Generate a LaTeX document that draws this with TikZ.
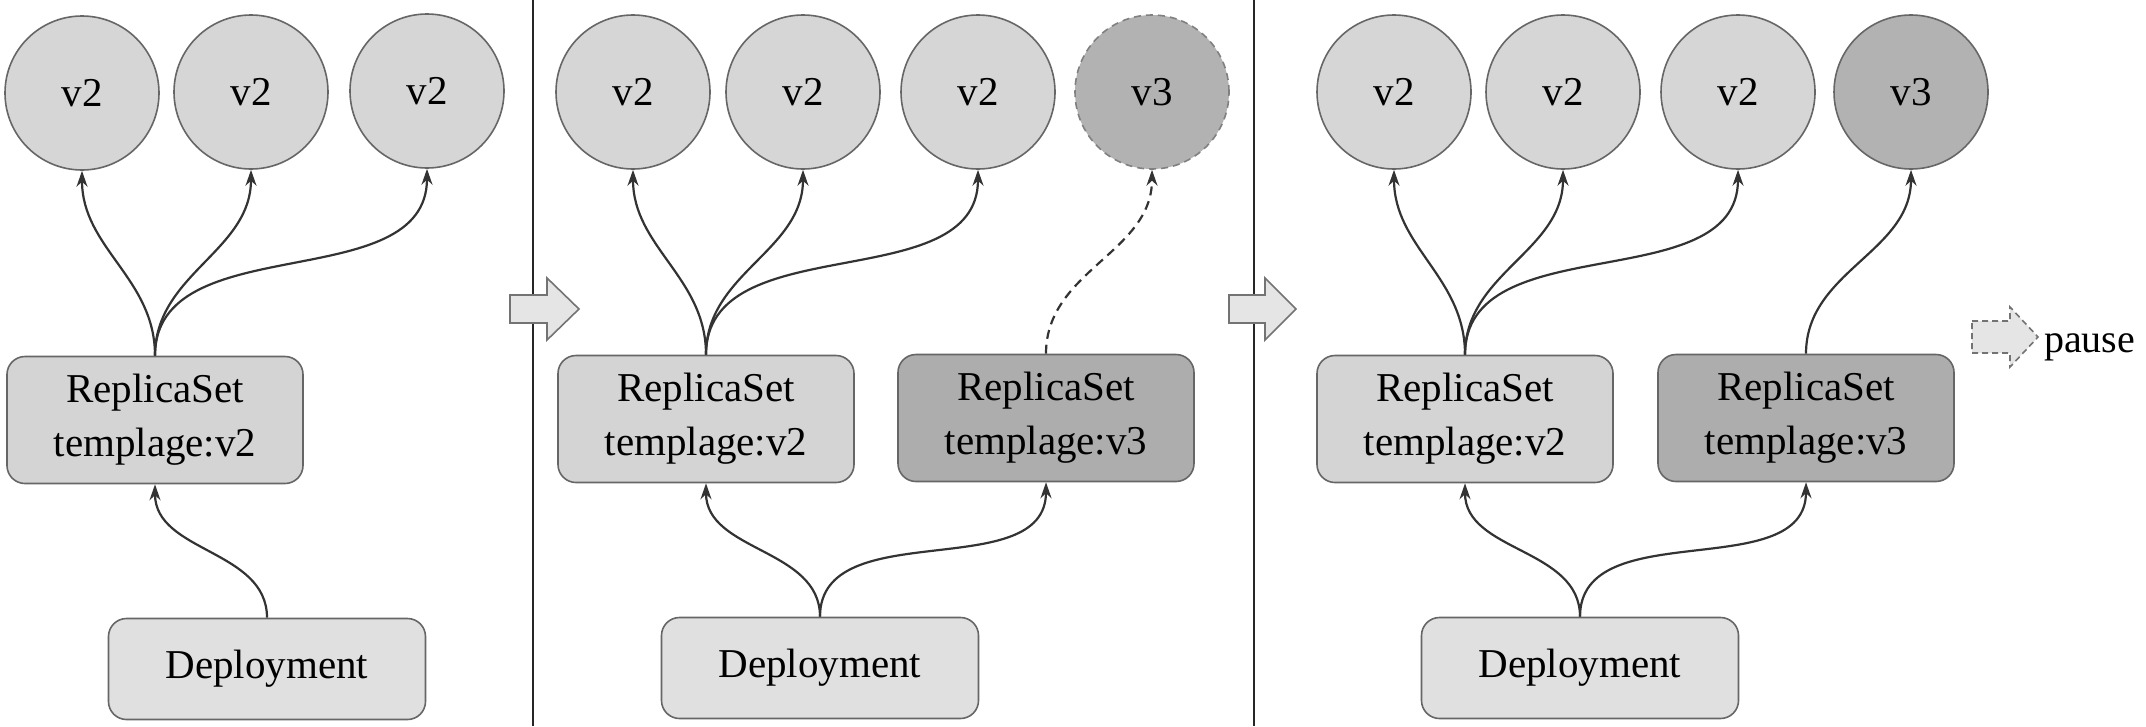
\documentclass[tikz,border=0pt]{standalone}
\usepackage{fontspec}
\setmainfont{Liberation Serif}
\usetikzlibrary{arrows.meta}
\begin{document}
\begin{tikzpicture}[x=1pt,y=-1pt,
  pod/.style={circle, draw=black!60, line width=1.6pt, fill=black!16, minimum size=154pt, inner sep=0pt, font=\fontsize{41}{49}\selectfont},
  podnew/.style={pod, fill=black!30},
  rsbox/.style={rectangle, rounded corners=18pt, draw=black!60, line width=1.6pt, fill=black!17, minimum width=296pt, minimum height=127pt, align=center, inner sep=0pt, font=\fontsize{41}{54}\selectfont},
  rsnew/.style={rsbox, fill=black!32},
  depbox/.style={rectangle, rounded corners=18pt, draw=black!60, line width=1.6pt, fill=black!12, minimum width=317pt, minimum height=101pt, inner sep=0pt, font=\fontsize{41}{49}\selectfont},
  conn/.style={-{Stealth[length=16pt,width=11pt]}, line width=2.2pt, draw=black!80},
  divider/.style={line width=2pt, draw=black!85},
  blockarrow/.style={draw=black!55, line width=1.6pt, fill=black!10, line join=miter}
]
\useasboundingbox (0,0) rectangle (2146,726);

% dividers
\coordinate (d1t) at (533,0); \coordinate (d1b) at (533,726);
\coordinate (d2t) at (1254,0); \coordinate (d2b) at (1254,726);
\draw[divider] (d1t) -- (d1b);
\draw[divider] (d2t) -- (d2b);

% transition arrows
\draw[blockarrow] (510,295) -- (547,295) -- (547,278) -- (579,309) -- (547,340) -- (547,323) -- (510,323) -- cycle;
\draw[blockarrow] (1229,295) -- (1265,295) -- (1265,278) -- (1296,309) -- (1265,340) -- (1265,323) -- (1229,323) -- cycle;

% ---------- panel 1
\node[pod] (c11) at (82,93) {v2};
\node[pod] (c12) at (251,92) {v2};
\node[pod] (c13) at (427,91) {v2};
\node[rsbox] (rs1) at (155,420) {ReplicaSet\\templage:v2};
\node[depbox] (dep1) at (267,669) {Deployment};
\draw[conn] (rs1.north) to[out=90,in=-90] (c11.south);
\draw[conn] (rs1.north) to[out=90,in=-90] (c12.south);
\draw[conn] (rs1.north) to[out=90,in=-90] (c13.south);
\draw[conn] (dep1.north) to[out=90,in=-90] (rs1.south);

% ---------- panel 2
\node[pod] (c21) at (633,92) {v2};
\node[pod] (c22) at (803,92) {v2};
\node[pod] (c23) at (978,92) {v2};
\node[podnew, draw=black!50, dash pattern=on 7pt off 5pt] (c24) at (1152,92) {v3};
\node[rsbox] (rs21) at (706,419) {ReplicaSet\\templage:v2};
\node[rsnew] (rs22) at (1046,418) {ReplicaSet\\templage:v3};
\node[depbox] (dep2) at (820,668) {Deployment};
\draw[conn] (rs21.north) to[out=90,in=-90] (c21.south);
\draw[conn] (rs21.north) to[out=90,in=-90] (c22.south);
\draw[conn] (rs21.north) to[out=90,in=-90] (c23.south);
\draw[conn, dash pattern=on 9pt off 6pt] (rs22.north) to[out=90,in=-90] (c24.south);
\draw[conn] (dep2.north) to[out=90,in=-90] (rs21.south);
\draw[conn] (dep2.north) to[out=90,in=-90] (rs22.south);

% ---------- panel 3
\node[pod] (c31) at (1394,92) {v2};
\node[pod] (c32) at (1563,92) {v2};
\node[pod] (c33) at (1738,92) {v2};
\node[podnew] (c34) at (1911,92) {v3};
\node[rsbox] (rs31) at (1465,419) {ReplicaSet\\templage:v2};
\node[rsnew] (rs32) at (1806,418) {ReplicaSet\\templage:v3};
\node[depbox] (dep3) at (1580,668) {Deployment};
\draw[conn] (rs31.north) to[out=90,in=-90] (c31.south);
\draw[conn] (rs31.north) to[out=90,in=-90] (c32.south);
\draw[conn] (rs31.north) to[out=90,in=-90] (c33.south);
\draw[conn] (rs32.north) to[out=90,in=-90] (c34.south);
\draw[conn] (dep3.north) to[out=90,in=-90] (rs31.south);
\draw[conn] (dep3.north) to[out=90,in=-90] (rs32.south);

% pause legend
\draw[blockarrow, dash pattern=on 6pt off 4pt] (1972,321) -- (2010,321) -- (2010,307) -- (2038,337) -- (2010,367) -- (2010,353) -- (1972,353) -- cycle;
\node[anchor=base west, inner sep=0pt, font=\fontsize{40}{48}\selectfont] (pause) at (2044,352) {pause};
\end{tikzpicture}
\end{document}
